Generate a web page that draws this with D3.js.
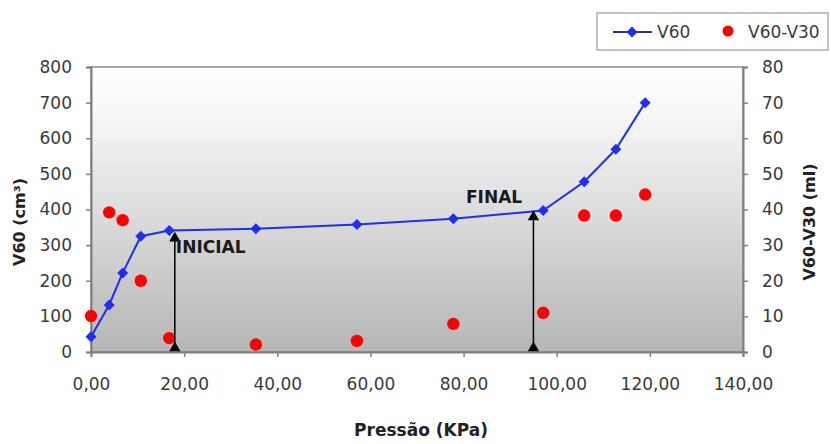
<!DOCTYPE html>
<html>
<head>
<meta charset="utf-8">
<script src="https://cdn.jsdelivr.net/npm/d3@7"></script>
<style>
  html, body { margin: 0; padding: 0; background: #ffffff; }
  svg { display: block; font-family: "DejaVu Sans", "Liberation Sans", Arial, sans-serif; }
</style>
</head>
<body>
<svg id="chart" width="831" height="444"></svg>
<script>
// ---- data ----
const pressure   = [0.0, 3.9, 6.8, 10.7, 16.8, 35.4, 57.1, 77.8, 97.1, 105.9, 112.7, 119.0];
const v60        = [43, 132, 222, 325, 341, 346, 358, 374, 397, 478, 569, 700];
const v60v30     = [10.1, 39.2, 37.0, 20.0, 3.9, 2.1, 3.1, 7.9, 11.0, 38.3, 38.3, 44.2];
const xTicks     = [0, 20, 40, 60, 80, 100, 120, 140];
const yLeftTicks = [0, 100, 200, 300, 400, 500, 600, 700, 800];
const yRightTicks= [0, 10, 20, 30, 40, 50, 60, 70, 80];
const markX      = [18.0, 95.0];
const markTop    = [333, 393];
const markLabels = ["INICIAL", "FINAL"];
const seriesNames= ["V60", "V60-V30"];

// ---- layout ----
const svg = d3.select("#chart");
const L = 91, R = 743, T = 67, B = 352;

const x  = d3.scaleLinear().domain([0, 140]).range([L, R]);
const yL = d3.scaleLinear().domain([0, 800]).range([B, T]);
const yR = d3.scaleLinear().domain([0, 80]).range([B, T]);

const defs = svg.append("defs");
const grad = defs.append("linearGradient").attr("id", "bg").attr("x1", 0).attr("y1", 0).attr("x2", 0).attr("y2", 1);
grad.append("stop").attr("offset", "0%").attr("stop-color", "#ffffff");
grad.append("stop").attr("offset", "15%").attr("stop-color", "#f8f8f8");
grad.append("stop").attr("offset", "100%").attr("stop-color", "#b6b6b6");

svg.append("rect").attr("x", L).attr("y", T).attr("width", R - L).attr("height", B - T)
  .attr("fill", "url(#bg)").attr("stroke", "#8a8a8a").attr("stroke-width", 1.5);

const axisColor = "#808080";
const fmtX = d => d3.format(".2f")(d).replace(".", ",");

function styleAxis(g) {
  g.attr("font-family", null);
  g.select(".domain").attr("stroke", axisColor).attr("stroke-width", 2);
  g.selectAll(".tick line").attr("stroke", axisColor).attr("stroke-width", 1.5);
  g.selectAll(".tick text").attr("fill", "#3a3a3a").attr("font-size", 17);
}

svg.append("g").attr("transform", `translate(0,${B})`)
  .call(d3.axisBottom(x).tickValues(xTicks).tickFormat(fmtX).tickSizeOuter(0).tickSize(5).tickPadding(21))
  .call(styleAxis);

svg.append("g").attr("transform", `translate(${L},0)`)
  .call(d3.axisLeft(yL).tickValues(yLeftTicks).tickSizeOuter(0).tickSize(5).tickPadding(14))
  .call(styleAxis);

svg.append("g").attr("transform", `translate(${R},0)`)
  .call(d3.axisRight(yR).tickValues(yRightTicks).tickSizeOuter(0).tickSize(5).tickPadding(14))
  .call(styleAxis);

// axis titles
svg.append("text").attr("transform", `translate(25,222) rotate(-90)`)
  .attr("text-anchor", "middle").attr("font-size", 16).attr("font-weight", "bold").attr("fill", "#222")
  .text("V60 (cm³)");
svg.append("text").attr("transform", `translate(815,222) rotate(-90)`)
  .attr("text-anchor", "middle").attr("font-size", 16).attr("font-weight", "bold").attr("fill", "#222")
  .text("V60-V30 (ml)");
svg.append("text").attr("x", 421).attr("y", 436)
  .attr("text-anchor", "middle").attr("font-size", 17).attr("font-weight", "bold").attr("fill", "#222")
  .text("Pressão (KPa)");

// series V60 line
const blue = "#1f2ff0";
const pts = pressure.map((p, i) => [p, v60[i]]);
svg.append("path").datum(pts)
  .attr("fill", "none").attr("stroke", blue).attr("stroke-width", 2)
  .attr("d", d3.line().x(d => x(d[0])).y(d => yL(d[1])));
const dia = "M0,-5.5L5.5,0L0,5.5L-5.5,0Z";
svg.append("g").selectAll("path").data(pts).join("path")
  .attr("transform", d => `translate(${x(d[0])},${yL(d[1])})`)
  .attr("d", dia).attr("fill", blue);

// series V60-V30 dots
svg.append("g").selectAll("circle").data(pressure.map((p, i) => [p, v60v30[i]])).join("circle")
  .attr("cx", d => x(d[0])).attr("cy", d => yR(d[1])).attr("r", 6.2).attr("fill", "#ff0000");

// annotation arrows
const tri = d3.symbol().type(d3.symbolTriangle).size(55);
markX.forEach((mx, i) => {
  const g = svg.append("g");
  g.append("line").attr("x1", x(mx)).attr("x2", x(mx)).attr("y1", B - 3).attr("y2", yL(markTop[i]) + 4)
    .attr("stroke", "#000").attr("stroke-width", 1.5);
  g.append("path").attr("transform", `translate(${x(mx)},${yL(markTop[i]) + 5})`).attr("d", tri).attr("fill", "#000");
  g.append("path").attr("transform", `translate(${x(mx)},${B - 4})`).attr("d", tri).attr("fill", "#000");
});
svg.append("text").attr("x", x(markX[0]) + 1).attr("y", 253)
  .attr("font-size", 17).attr("font-weight", "bold").attr("fill", "#1a1a1a").text(markLabels[0]);
svg.append("text").attr("x", 466).attr("y", 203)
  .attr("font-size", 17).attr("font-weight", "bold").attr("fill", "#1a1a1a").text(markLabels[1]);

// legend
const lg = svg.append("g");
lg.append("rect").attr("x", 597).attr("y", 13).attr("width", 231).attr("height", 37)
  .attr("fill", "#fff").attr("stroke", "#9a9a9a").attr("stroke-width", 1.2);
lg.append("line").attr("x1", 613).attr("x2", 652).attr("y1", 32).attr("y2", 32).attr("stroke", "#3030a0").attr("stroke-width", 2);
lg.append("path").attr("transform", "translate(632,32)").attr("d", dia).attr("fill", blue);
lg.append("text").attr("x", 657).attr("y", 38).attr("font-size", 17).attr("fill", "#3a3a3a").text(seriesNames[0]);
lg.append("circle").attr("cx", 728).attr("cy", 31).attr("r", 5.5).attr("fill", "#ff0000");
lg.append("text").attr("x", 748).attr("y", 38).attr("font-size", 17).attr("fill", "#3a3a3a").text(seriesNames[1]);
</script>
</body>
</html>
